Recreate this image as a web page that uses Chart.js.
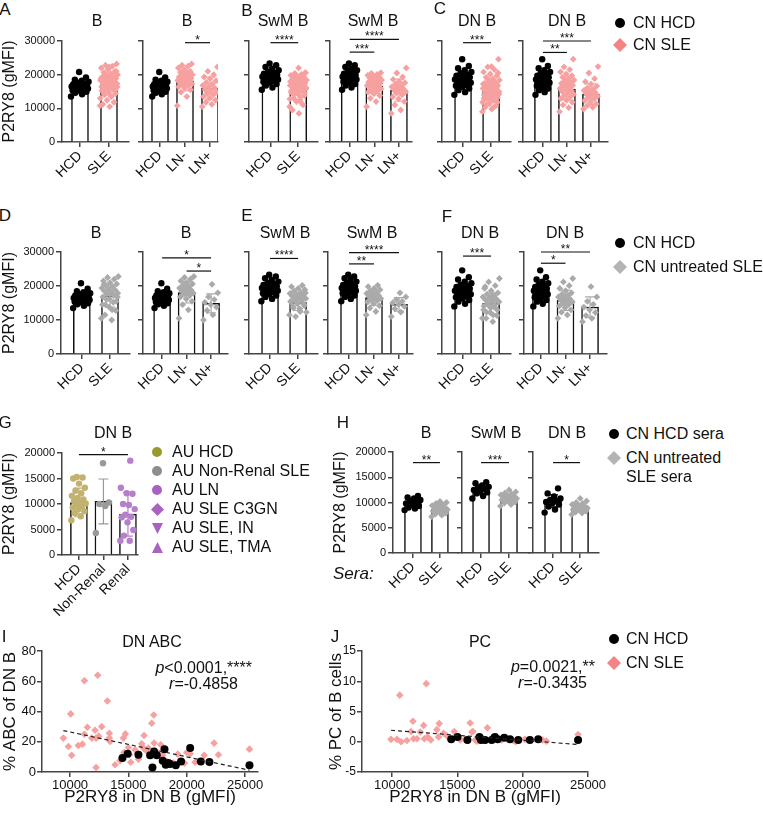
<!DOCTYPE html>
<html>
<head>
<meta charset="utf-8">
<script src="https://cdn.jsdelivr.net/npm/chart.js@4.4.0/dist/chart.umd.min.js"></script>
<style>
  body { margin: 0; background: #fff; width: 763px; height: 813px; position: relative; overflow: hidden;
         font-family: "Liberation Sans", Arial, sans-serif; color: #111; }
  canvas { position: absolute; }
  .t { position: absolute; white-space: nowrap; line-height: 1; font-size: 16px; }
  .c { transform: translate(-50%, -50%); }
  .l { transform: translateY(-50%); }
  .r { transform: translate(-100%, -50%); }
</style>
</head>
<body>
<script>
// ---- categories / tick labels ----
const catSle = ['HCD', 'SLE'];
const catLn = ['HCD', 'LN-', 'LN+'];
const catG = ['HCD', 'Non-Renal', 'Renal'];
const yTicks30 = [0, 10000, 20000, 30000];
const yTicks20 = [0, 5000, 10000, 15000, 20000];
const xTicksIJ = [10000, 15000, 20000, 25000];
const yTicksI = [0, 20, 40, 60, 80];
const yTicksJ = [-5, 0, 5, 10, 15];

// ---- CN cohort, P2RY8 gMFI ----
const hcdB = [13500, 14200, 14600, 14900, 15200, 15400, 15600, 15800, 15900, 16000, 16200, 16300, 16400, 16500, 16600, 16700, 16900, 17000, 17200, 17400, 17600, 17900, 18200, 18500, 19200, 20800];
const lnNegB = [10800, 13500, 14800, 15500, 16000, 16400, 16800, 17000, 17300, 17500, 17800, 18000, 18100, 18300, 18500, 18700, 18900, 19000, 19300, 19500, 19800, 20000, 20300, 20700, 21000, 21500, 22000, 22500, 22800, 23200];
const lnPosB = [10500, 11200, 11800, 12400, 13000, 13500, 14000, 14400, 14800, 15200, 15600, 16000, 16400, 16800, 17200, 17700, 18200, 18800, 19300, 20000, 21000, 22300];
const hcdSwm = [15500, 16200, 16800, 17200, 17600, 17900, 18200, 18400, 18600, 18800, 19000, 19100, 19200, 19400, 19500, 19700, 19900, 20100, 20300, 20600, 20900, 21300, 21800, 22300, 22800, 23300];
const lnNegSwm = [10500, 12000, 13000, 13800, 14300, 14800, 15200, 15500, 15800, 16000, 16200, 16400, 16600, 16800, 17000, 17200, 17400, 17600, 17800, 18000, 18200, 18400, 18600, 18900, 19200, 19500, 19800, 20100, 20400, 20600];
const lnPosSwm = [8500, 9500, 11000, 12000, 12800, 13400, 14000, 14500, 14900, 15200, 15500, 15800, 16100, 16400, 16800, 17200, 17600, 18000, 18600, 19300, 20500, 22000];
const hcdDn = [14000, 14800, 15400, 15900, 16300, 16700, 17000, 17300, 17600, 17800, 18000, 18200, 18400, 18600, 18800, 19000, 19200, 19400, 19700, 20000, 20400, 20800, 21300, 21900, 22600, 24600];
const lnNegDn = [9000, 10200, 11000, 11800, 12400, 12900, 13400, 13800, 14200, 14600, 15000, 15300, 15600, 15900, 16200, 16500, 16800, 17100, 17400, 17700, 18000, 18400, 18800, 19200, 19700, 20200, 20800, 21500, 22300, 24600];
const lnPosDn = [9800, 10300, 10800, 11300, 11800, 12300, 12800, 13200, 13600, 14000, 14300, 14600, 14900, 15300, 15700, 16100, 16600, 17200, 17900, 18800, 20500, 22400];

// untreated SLE subset
const utNegB = [10500, 13000, 14500, 15500, 16200, 16800, 17200, 17600, 17900, 18200, 18500, 18800, 19100, 19400, 19800, 20200, 20600, 21000, 21500, 22000, 22500, 22800];
const utPosB = [10000, 11500, 12800, 13800, 14500, 15200, 16000, 16800, 18000, 20500];
const utNegSwm = [11500, 12500, 13500, 14200, 14800, 15300, 15700, 16000, 16300, 16600, 16900, 17200, 17500, 17800, 18100, 18500, 18900, 19300, 19800, 20200];
const utPosSwm = [11000, 12300, 13300, 14000, 14600, 15000, 15500, 16000, 16800, 18000];
const utNegDn = [10500, 11500, 12300, 13000, 13600, 14100, 14500, 14900, 15300, 15600, 15900, 16200, 16500, 16800, 17200, 17600, 18000, 18600, 19300, 20100, 21200, 22200];
const utPosDn = [9500, 10500, 11300, 12200, 13000, 13800, 14600, 15500, 16800, 19800];

// AU cohort, DN B
const auHcd = [6800, 7600, 8200, 8600, 9000, 9300, 9600, 9900, 10100, 10300, 10600, 10900, 11200, 11600, 12100, 12600, 13200, 14000, 15000, 15200, 15300];
const auNonRenal = [4300, 9600, 10000, 10300, 18000];
const auRenal = [2800, 2800, 3800, 4900, 6400, 7400, 7500, 7900, 9000, 9800, 10000, 12000, 12100, 13200, 18500];

// sera stimulation
const seraHcdB = [8500, 8800, 9000, 9300, 9600, 9800, 10000, 10200, 10500, 10800, 11000, 11300];
const seraSleB = [7200, 7500, 7700, 7900, 8100, 8300, 8400, 8500, 8600, 8800, 8900, 9000, 9200, 9400, 9600, 9800, 10000, 10200];
const seraHcdSwm = [10800, 11300, 11800, 12000, 12300, 12500, 12700, 12900, 13100, 13400, 13800, 14000];
const seraSleSwm = [9300, 9600, 9900, 10100, 10300, 10500, 10600, 10700, 10800, 10900, 11000, 11200, 11300, 11500, 11700, 11900, 12100, 12500];
const seraHcdDn = [8000, 8600, 9200, 9600, 9900, 10100, 10300, 10500, 10800, 11200, 11800, 12800];
const seraSleDn = [7600, 7900, 8100, 8300, 8500, 8600, 8700, 8800, 8900, 9000, 9100, 9200, 9400, 9600, 9800, 10000, 10300, 10800];

// bar heights (mean) and SD per panel
const meanA1 = [16500, 17200], sdA1 = [1500, 3300];
const meanA2 = [16500, 18200, 16000], sdA2 = [1500, 3000, 3300];
const meanB1 = [19300, 15400], sdB1 = [1700, 2800];
const meanB2 = [19300, 16600, 15400], sdB2 = [1700, 2200, 3300];
const meanC1 = [18400, 15200], sdC1 = [2200, 3100];
const meanC2 = [18400, 15700, 14200], sdC2 = [2200, 3200, 3100];
const meanD1 = [16500, 17100], sdD1 = [1500, 3300];
const meanD2 = [16500, 18100, 14900], sdD2 = [1500, 3100, 2800];
const meanE1 = [19300, 15100], sdE1 = [1700, 2300];
const meanE2 = [19300, 16600, 14600], sdE2 = [1700, 2300, 2000];
const meanF1 = [18500, 14900], sdF1 = [2200, 3000];
const meanF2 = [18500, 15800, 13800], sdF2 = [2200, 3000, 3000];
const meanG = [10300, 10500, 8000], sdG = [2800, 4400, 4300];
const meanH1 = [9950, 8650], sdH1 = [800, 800];
const meanH2 = [12500, 10700], sdH2 = [1000, 800];
const meanH3 = [10300, 8850], sdH3 = [1200, 700];

// significance brackets: [from, to, height, stars]
const sigA2 = [[1, 2, 29500, '*']];
const sigB1 = [[0, 1, 29500, '****']];
const sigB2 = [[0, 2, 30500, '****'], [0, 1, 26700, '***']];
const sigC1 = [[0, 1, 29500, '***']];
const sigC2 = [[0, 2, 30000, '***'], [0, 1, 26600, '**']];
const sigD2 = [[0, 2, 28300, '*'], [1, 2, 24400, '*']];
const sigE1 = [[0, 1, 28100, '****']];
const sigE2 = [[0, 2, 29800, '****'], [0, 1, 26500, '**']];
const sigF1 = [[0, 1, 28800, '***']];
const sigF2 = [[0, 2, 30000, '**'], [0, 1, 26700, '*']];
const sigG = [[0, 2, 19700, '*']];
const sigH1 = [[0, 1, 17900, '**']];
const sigH2 = [[0, 1, 17900, '***']];
const sigH3 = [[0, 1, 17900, '*']];

// correlations (I: % ABC of DN B, J: % PC of B cells)
const sleAbcX = [9430, 9860, 10060, 10140, 10710, 11060, 11230, 11230, 11490, 11860, 12140, 12230, 12230, 12370, 12460, 12710, 13200, 13370, 13370, 13430, 13860, 14290, 14570, 14740, 14630, 15000, 15090, 15200, 15570, 15770, 15860, 16140, 16290, 16340, 16510, 16710, 17000, 17170, 17200, 17570, 17770, 17940, 18290, 18860, 19230, 19800, 20000, 20290, 20710, 21490, 22340, 22710, 25370];
const sleAbcY = [22.4, 16.9, 38.4, 11, 17.5, 18.4, 60.3, 25, 29.6, 22.4, 27.6, 22.4, 3, 64, 23.7, 30, 46.9, 25.6, 22.4, 20.2, 4.8, 7.5, 22.4, 25.2, 12.9, 16.2, 11.4, 6.4, 14.7, 12.5, 8.5, 18.6, 15.8, 24.1, 14.2, 15.8, 32.2, 37.7, 19.1, 12.5, 18, 11, 7, 5.9, 11.8, 5.9, 12.9, 12, 6.4, 11, 19.1, 11.4, 15.1];
const hcdAbcX = [14490, 14940, 15860, 16860, 17060, 17200, 17430, 18090, 17940, 18200, 18430, 18570, 19060, 19510, 20290, 21200, 21940, 25370];
const hcdAbcY = [9.2, 12, 11.4, 11, 3, 13.6, 11, 15.1, 7.5, 4.8, 5.9, 5.3, 4.4, 7, 15.8, 7, 6.6, 4.4];
const fitAbcX = [9430, 25370], fitAbcY = [27.4, 1.2];

const slePcX = [9920, 10380, 10590, 10690, 11140, 11450, 11600, 11650, 11910, 12160, 12420, 12470, 12620, 12720, 12970, 13430, 13560, 13610, 13940, 14200, 14760, 15220, 15600, 15980, 16110, 16190, 16370, 16490, 17000, 17300, 17460, 18390, 18820, 19280, 19460, 20170, 21520, 21820, 24240];
const slePcY = [0.4, 0.4, 7.7, 0, 0.2, 1.7, 3.4, 0.5, 0.5, 1.6, 2.7, 0.5, 9.6, 0.8, 0.3, 2.0, 0.8, 3.0, 1.4, 1.0, 1.7, 0.3, 0.4, 3.1, 1.6, 1.7, 0.3, 0.1, 0.5, 2.3, 0.3, 0.3, 0.5, 0.2, 0, 0.4, 0.3, 0.1, 1.2];
const hcdPcX = [14530, 15010, 15770, 16690, 16810, 17120, 17630, 17810, 17880, 18090, 18590, 19030, 19660, 20550, 21190, 24240];
const hcdPcY = [0.4, 0.8, 0.3, 0.8, 0.3, 0.3, 0.3, 0.6, 0.8, 0.4, 0.65, 0.4, 0.3, 0.3, 0.4, 0.3];
const fitPcX = [9920, 24240], fitPcY = [1.9, -0.45];

// ---- styling ----
const FONT = '"Liberation Sans", Arial, sans-serif';
const AXIS = '#444';
const BLACK = '#000', PINK = '#f7a0a0', GRAY = '#aaaaaa';
const OLIVE = '#c2b270', GREY2 = '#999999', PURPLE = '#b67fcb';

// spread points sideways inside their bar (layout only)
const jit = (k) => ((k * 0.618034) % 1 - 0.5) * 0.62;

function extras(p) {
  return {
    id: 'extras',
    afterDatasetsDraw(chart) {
      const { ctx, scales: { x, y } } = chart;
      ctx.save();
      ctx.lineWidth = 1.2;
      p.means.forEach((m, i) => {
        const px = x.getPixelForValue(i);
        const top = y.getPixelForValue(m + p.sds[i]);
        const bot = y.getPixelForValue(m - p.sds[i]);
        ctx.strokeStyle = p.colors[i];
        ctx.beginPath();
        ctx.moveTo(px, top); ctx.lineTo(px, bot);
        ctx.moveTo(px - 5, top); ctx.lineTo(px + 5, top);
        ctx.moveTo(px - 5, bot); ctx.lineTo(px + 5, bot);
        ctx.stroke();
      });
      ctx.strokeStyle = '#111';
      ctx.fillStyle = '#111';
      ctx.font = '12px ' + FONT;
      ctx.textAlign = 'center';
      ctx.textBaseline = 'alphabetic';
      (p.sig || []).forEach(([a, b, v, s]) => {
        const yy = y.getPixelForValue(v);
        const xa = x.getPixelForValue(a), xb = x.getPixelForValue(b);
        ctx.beginPath(); ctx.moveTo(xa, yy); ctx.lineTo(xb, yy); ctx.stroke();
        ctx.fillText(s, (xa + xb) / 2, yy + 1);
      });
      ctx.restore();
    }
  };
}

function barPanel(p) {
  const padT = 22, padR = 12;
  const padL = p.padL || 14, padB = p.padB || 42;
  const cv = document.createElement('canvas');
  cv.width = p.x1 - p.x0 + padL + padR;
  cv.height = padT + p.yBot - p.yTop + padB;
  cv.style.left = (p.x0 - padL) + 'px';
  cv.style.top = (p.yTop - padT) + 'px';
  document.body.appendChild(cv);

  const datasets = p.groups.map((vals, i) => ({
    type: 'scatter',
    data: vals.map((v, k) => ({ x: i + jit(k), y: v })),
    pointStyle: p.shapes[i],
    pointRadius: p.shapes[i] === 'circle' ? 3.2 : 3.4,
    pointBackgroundColor: p.colors[i],
    pointBorderWidth: 0,
    order: 1
  }));
  datasets.push({
    type: 'bar',
    data: p.means.map((m, i) => ({ x: i, y: m })),
    backgroundColor: '#fff',
    borderColor: '#111',
    borderWidth: 1.5,
    barThickness: 17,
    order: 5
  });

  new Chart(cv, {
    type: 'scatter',
    data: { datasets },
    options: {
      responsive: false, animation: false, devicePixelRatio: 1, events: [],
      layout: { padding: { top: padT, right: padR, left: 0, bottom: 0 } },
      plugins: { legend: { display: false }, tooltip: { enabled: false } },
      scales: {
        x: {
          type: 'linear', min: p.xmin, max: p.xmax, offset: false,
          afterBuildTicks: s => { s.ticks = p.labels.map((_, i) => ({ value: i })); },
          afterFit: s => { s.height = padB; },
          ticks: { callback: v => p.labels[v], minRotation: 45, maxRotation: 45, autoSkip: false,
                   font: { family: FONT, size: 14 }, color: '#111', padding: 1 },
          grid: { drawOnChartArea: false, tickLength: 5, color: AXIS, lineWidth: 1.5, offset: false },
          border: { color: AXIS, width: 1.5 }
        },
        y: {
          min: 0, max: p.ymax,
          afterBuildTicks: s => { s.ticks = p.yTicks.map(v => ({ value: v })); },
          afterFit: s => { s.width = padL; },
          ticks: { display: !!p.yLabels, callback: v => String(v), font: { family: FONT, size: 11 }, color: '#111', padding: 2 },
          grid: { drawOnChartArea: false, tickLength: 5, color: AXIS, lineWidth: 1.5 },
          border: { color: AXIS, width: 1.5 },
          title: { display: !!p.yTitle, text: 'P2RY8 (gMFI)', font: { family: FONT, size: 16 }, color: '#111', padding: 0 }
        }
      }
    },
    plugins: [extras(p)]
  });
}

function scatterPanel(p) {
  const padT = 15, padB = 36;
  const cv = document.createElement('canvas');
  cv.width = p.x1 - p.x0 + p.padL + p.padR;
  cv.height = padT + p.yBot - p.yTop + padB;
  cv.style.left = (p.x0 - p.padL) + 'px';
  cv.style.top = (p.yTop - padT) + 'px';
  document.body.appendChild(cv);

  new Chart(cv, {
    type: 'scatter',
    data: {
      datasets: [
        { type: 'line', data: p.fitX.map((v, i) => ({ x: v, y: p.fitY[i] })), borderColor: '#222',
          borderWidth: 1.2, borderDash: [4, 3], pointRadius: 0, fill: false, order: 0 },
        { data: p.hcdX.map((v, i) => ({ x: v, y: p.hcdY[i] })), pointStyle: 'circle', pointRadius: 4,
          pointBackgroundColor: BLACK, pointBorderWidth: 0, order: 1 },
        { data: p.sleX.map((v, i) => ({ x: v, y: p.sleY[i] })), pointStyle: 'rectRot', pointRadius: 3.8,
          pointBackgroundColor: PINK, pointBorderWidth: 0, order: 2 }
      ]
    },
    options: {
      responsive: false, animation: false, devicePixelRatio: 1, events: [],
      layout: { padding: { top: padT, right: p.padR, left: 0, bottom: 0 } },
      plugins: { legend: { display: false }, tooltip: { enabled: false } },
      scales: {
        x: {
          type: 'linear', min: p.xmin, max: p.xmax,
          afterBuildTicks: s => { s.ticks = xTicksIJ.map(v => ({ value: v })); },
          afterFit: s => { s.height = padB; },
          ticks: { callback: v => String(v), font: { family: FONT, size: 13 }, color: '#111', padding: 1, maxRotation: 0 },
          grid: { drawOnChartArea: false, tickLength: 5, color: AXIS, lineWidth: 1.5 },
          border: { color: AXIS, width: 1.5 },
          title: { display: true, text: 'P2RY8 in DN B (gMFI)', font: { family: FONT, size: 17 }, color: '#111', padding: 0 }
        },
        y: {
          min: p.ymin, max: p.ymax,
          afterBuildTicks: s => { s.ticks = p.yTicks.map(v => ({ value: v })); },
          afterFit: s => { s.width = p.padL; },
          ticks: { callback: v => String(v), font: { family: FONT, size: p.tickSize || 13 }, color: '#111', padding: 1 },
          grid: { drawOnChartArea: false, tickLength: 5, color: AXIS, lineWidth: 1.5 },
          border: { color: AXIS, width: 1.5 },
          title: { display: true, text: p.yTitle, font: { family: FONT, size: 17 }, color: '#111', padding: 0 }
        }
      }
    }
  });
}

// ---- html text and legend markers ----
function txt(html, x, y, mode, size, extra) {
  const d = document.createElement('div');
  d.className = 't ' + mode;
  d.style.left = x + 'px';
  d.style.top = y + 'px';
  if (size) d.style.fontSize = size + 'px';
  if (extra) d.style.cssText += extra;
  d.innerHTML = html;
  document.body.appendChild(d);
}

function marker(shape, color, x, y, s) {
  const d = document.createElement('div');
  d.style.cssText = `position:absolute;left:${x - s / 2}px;top:${y - s / 2}px;width:${s}px;height:${s}px`;
  let inner;
  if (shape === 'circle') inner = `<circle cx="${s / 2}" cy="${s / 2}" r="${s / 2}" fill="${color}"/>`;
  else if (shape === 'diamond') inner = `<polygon points="${s / 2},0 ${s},${s / 2} ${s / 2},${s} 0,${s / 2}" fill="${color}"/>`;
  else if (shape === 'down') inner = `<polygon points="0,0 ${s},0 ${s / 2},${s}" fill="${color}"/>`;
  else inner = `<polygon points="${s / 2},0 ${s},${s} 0,${s}" fill="${color}"/>`;
  d.innerHTML = `<svg width="${s}" height="${s}" style="display:block">${inner}</svg>`;
  document.body.appendChild(d);
}

// ---- row 1: A, B, C (CN cohort) ----
const r1 = { yTop: 41, yBot: 142, ymax: 30000, yTicks: yTicks30 };
const two = ['circle', 'rectRot'], three = ['circle', 'rectRot', 'rectRot'];
barPanel({ ...r1, x0: 62, x1: 129, xmin: -0.62, xmax: 1.69, labels: catSle, groups: [hcdB, lnNegB.concat(lnPosB)],
  colors: [BLACK, PINK], shapes: two, means: meanA1, sds: sdA1, yLabels: true, yTitle: true, padL: 62 });
barPanel({ ...r1, x0: 143, x1: 218, xmin: -0.68, xmax: 2.32, labels: catLn, groups: [hcdB, lnNegB, lnPosB],
  colors: [BLACK, PINK, PINK], shapes: three, means: meanA2, sds: sdA2, sig: sigA2 });
barPanel({ ...r1, x0: 249, x1: 318, xmin: -0.77, xmax: 1.71, labels: catSle, groups: [hcdSwm, lnNegSwm.concat(lnPosSwm)],
  colors: [BLACK, PINK], shapes: two, means: meanB1, sds: sdB1, sig: sigB1 });
barPanel({ ...r1, x0: 330, x1: 412, xmin: -0.8, xmax: 2.53, labels: catLn, groups: [hcdSwm, lnNegSwm, lnPosSwm],
  colors: [BLACK, PINK, PINK], shapes: three, means: meanB2, sds: sdB2, sig: sigB2 });
barPanel({ ...r1, x0: 442, x1: 511, xmin: -0.75, xmax: 1.71, labels: catSle, groups: [hcdDn, lnNegDn.concat(lnPosDn)],
  colors: [BLACK, PINK], shapes: two, means: meanC1, sds: sdC1, sig: sigC1 });
barPanel({ ...r1, x0: 523, x1: 608, xmin: -0.83, xmax: 2.71, labels: catLn, groups: [hcdDn, lnNegDn, lnPosDn],
  colors: [BLACK, PINK, PINK], shapes: three, means: meanC2, sds: sdC2, sig: sigC2 });

// ---- row 2: D, E, F (untreated SLE) ----
const r2 = { yTop: 252, yBot: 354, ymax: 30000, yTicks: yTicks30 };
barPanel({ ...r2, x0: 61, x1: 130, xmin: -0.74, xmax: 1.71, labels: catSle, groups: [hcdB, utNegB.concat(utPosB)],
  colors: [BLACK, GRAY], shapes: two, means: meanD1, sds: sdD1, yLabels: true, yTitle: true, padL: 61 });
barPanel({ ...r2, x0: 143, x1: 228, xmin: -0.78, xmax: 2.69, labels: catLn, groups: [hcdB, utNegB, utPosB],
  colors: [BLACK, GRAY, GRAY], shapes: three, means: meanD2, sds: sdD2, sig: sigD2 });
barPanel({ ...r2, x0: 249, x1: 318, xmin: -0.75, xmax: 1.71, labels: catSle, groups: [hcdSwm, utNegSwm.concat(utPosSwm)],
  colors: [BLACK, GRAY], shapes: two, means: meanE1, sds: sdE1, sig: sigE1 });
barPanel({ ...r2, x0: 328, x1: 413, xmin: -0.84, xmax: 2.56, labels: catLn, groups: [hcdSwm, utNegSwm, utPosSwm],
  colors: [BLACK, GRAY, GRAY], shapes: three, means: meanE2, sds: sdE2, sig: sigE2 });
barPanel({ ...r2, x0: 442, x1: 511, xmin: -0.75, xmax: 1.71, labels: catSle, groups: [hcdDn, utNegDn.concat(utPosDn)],
  colors: [BLACK, GRAY], shapes: two, means: meanF1, sds: sdF1, sig: sigF1 });
barPanel({ ...r2, x0: 524, x1: 607, xmin: -0.69, xmax: 2.69, labels: catLn, groups: [hcdDn, utNegDn, utPosDn],
  colors: [BLACK, GRAY, GRAY], shapes: three, means: meanF2, sds: sdF2, sig: sigF2 });

// ---- row 3: G (AU cohort) and H (sera) ----
barPanel({ yTop: 453, yBot: 555, ymax: 20000, yTicks: yTicks20, x0: 62, x1: 138, xmin: -0.69, xmax: 2.41,
  labels: catG, groups: [auHcd, auNonRenal, auRenal], colors: [OLIVE, GREY2, PURPLE],
  shapes: ['circle', 'circle', 'circle'], means: meanG, sds: sdG, sig: sigG, yLabels: true, yTitle: true, padL: 62, padB: 72 });
const r3 = { yTop: 452, yBot: 553, ymax: 20000, yTicks: yTicks20 };
barPanel({ ...r3, x0: 393, x1: 458, xmin: -0.74, xmax: 1.67, labels: catSle, groups: [seraHcdB, seraSleB],
  colors: [BLACK, GRAY], shapes: two, means: meanH1, sds: sdH1, sig: sigH1, yLabels: true, yTitle: true, padL: 62 });
barPanel({ ...r3, x0: 462, x1: 530, xmin: -0.68, xmax: 1.75, labels: catSle, groups: [seraHcdSwm, seraSleSwm],
  colors: [BLACK, GRAY], shapes: two, means: meanH2, sds: sdH2, sig: sigH2 });
barPanel({ ...r3, x0: 533, x1: 599, xmin: -0.74, xmax: 1.7, labels: catSle, groups: [seraHcdDn, seraSleDn],
  colors: [BLACK, GRAY], shapes: two, means: meanH3, sds: sdH3, sig: sigH3 });

// ---- row 4: I and J correlations ----
scatterPanel({ x0: 42, x1: 258, yTop: 651, yBot: 772, padL: 42, padR: 14, xmin: 7600, xmax: 26100,
  ymin: 0, ymax: 80, yTicks: yTicksI, yTitle: '% ABC of DN B',
  sleX: sleAbcX, sleY: sleAbcY, hcdX: hcdAbcX, hcdY: hcdAbcY, fitX: fitAbcX, fitY: fitAbcY });
scatterPanel({ x0: 362, x1: 588, yTop: 651, yBot: 772, padL: 36, padR: 22, xmin: 7700, xmax: 25000,
  ymin: -5, ymax: 15, yTicks: yTicksJ, yTitle: '% PC of B cells', tickSize: 12,
  sleX: slePcX, sleY: slePcY, hcdX: hcdPcX, hcdY: hcdPcY, fitX: fitPcX, fitY: fitPcY });

// ---- panel letters ----
[['A', 5, 9], ['B', 247, 10], ['C', 440, 8], ['D', 5, 215], ['E', 247, 215], ['F', 447, 216],
 ['G', 5, 422], ['H', 343, 422], ['I', 4, 636], ['J', 335, 636]].forEach(([s, x, y]) => txt(s, x, y, 'c', 17));

// ---- chart titles ----
[['B', 97, 21], ['B', 187, 21], ['SwM B', 283, 21], ['SwM B', 373, 21], ['DN B', 477, 21], ['DN B', 567, 21],
 ['B', 96, 233], ['B', 186, 233], ['SwM B', 285, 233], ['SwM B', 372, 233], ['DN B', 480, 233], ['DN B', 565, 233],
 ['DN B', 113, 433], ['B', 426, 433], ['SwM B', 496, 433], ['DN B', 567, 433],
 ['DN ABC', 152, 642], ['PC', 480, 642]].forEach(([s, x, y]) => txt(s, x, y, 'c', 16));

txt('<i>Sera:</i>', 333, 573, 'l', 17);

// ---- legends ----
marker('circle', '#000', 620, 23, 10); txt('CN HCD', 633, 23, 'l', 16);
marker('diamond', '#f48383', 620, 45, 14); txt('CN SLE', 633, 45, 'l', 16);
marker('circle', '#000', 620, 243, 10); txt('CN HCD', 633, 243, 'l', 16);
marker('diamond', '#b4b4b4', 620, 267, 14); txt('CN untreated SLE', 633, 267, 'l', 16);

const gLegend = ['AU HCD', 'AU Non-Renal SLE', 'AU LN', 'AU SLE C3GN', 'AU SLE, IN', 'AU SLE, TMA'];
const gShapes = ['circle', 'circle', 'circle', 'diamond', 'down', 'up'];
const gColors = ['#999a2e', '#8d8d8d', '#a862c0', '#a862c0', '#a862c0', '#a862c0'];
gLegend.forEach((s, i) => {
  const y = 452 + i * 19;
  marker(gShapes[i], gColors[i], 157, y, gShapes[i] === 'diamond' ? 13 : (gShapes[i] === 'circle' ? 10 : 11));
  txt(s, 172, y, 'l', 16);
});

marker('circle', '#000', 614, 434, 10); txt('CN HCD sera', 626, 434, 'l', 16);
marker('diamond', '#b4b4b4', 614, 458, 14); txt('CN untreated', 626, 458, 'l', 16);
txt('SLE sera', 626, 477, 'l', 16);

marker('circle', '#000', 614, 639, 10); txt('CN HCD', 626, 639, 'l', 16);
marker('diamond', '#f48383', 614, 663, 14); txt('CN SLE', 626, 663, 'l', 16);

// ---- correlation stats ----
txt('<i>p</i>&lt;0.0001,****', 252, 668, 'r', 16);
txt('<i>r</i>=-0.4858', 238, 684, 'r', 16);
txt('<i>p</i>=0.0021,**', 595, 667, 'r', 16);
txt('<i>r</i>=-0.3435', 587, 683, 'r', 16);
</script>
</body>
</html>
